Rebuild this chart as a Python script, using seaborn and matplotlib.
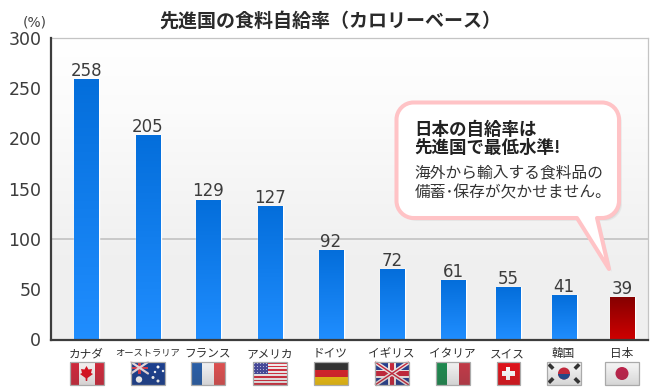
import numpy as np
import pandas as pd
import matplotlib
matplotlib.use("Agg")
import matplotlib.pyplot as plt
import seaborn as sns
from matplotlib.patches import Rectangle, Circle, PathPatch, Polygon
from matplotlib.path import Path
from matplotlib.colors import LinearSegmentedColormap

countries = ["カナダ", "オーストラリア", "フランス", "アメリカ", "ドイツ", "イギリス", "イタリア", "スイス", "韓国", "日本"]
value_labels = ["258", "205", "129", "127", "92", "72", "61", "55", "41", "39"]
drawn_heights = [259, 203, 139, 133, 89, 70, 59, 52, 44, 42]
# layout only: horizontal centres of the bars on the reference, in pixels
centres = [86.5, 148, 208, 270, 331, 392, 453, 508, 564, 622]
y_ticks = [0, 50, 100, 150, 200, 250, 300]

W, H = 650, 390
JP = ["Noto Sans CJK JP", "DejaVu Sans"]
sns.set_theme(style="white")
plt.rcParams["font.family"] = JP
DARK = "#3c3c3c"

fig = plt.figure(figsize=(W / 100, H / 100), dpi=100, facecolor="white")
L, R, T, B = 51, 648, 38, 339.5
ax = fig.add_axes([L / W, 1 - B / H, (R - L) / W, (B - T) / H])

df = pd.DataFrame({"country": countries, "pos": centres, "height": drawn_heights})
sns.barplot(data=df, x="pos", y="height", native_scale=True, width=25 / 55, color="#0F7FEA", ax=ax, zorder=3)

# plot background gradient
bg = LinearSegmentedColormap.from_list("bg", [(0, "#ffffff"), (0.25, "#fbfbfb"), (0.72, "#f0f0f0"), (1, "#efefef")])
ax.imshow(np.linspace(0, 1, 256)[:, None], extent=(L, R, 0, 300), origin="upper", aspect="auto", cmap=bg, zorder=0)

blue = LinearSegmentedColormap.from_list("blue", ["#046EDB", "#208EFF"])
red = LinearSegmentedColormap.from_list("red", ["#860000", "#CF0000"])
for i, p in enumerate(ax.patches):
    x0, w, h = p.get_x(), p.get_width(), p.get_height()
    ax.imshow(np.linspace(0, 1, 64)[:, None], extent=(x0, x0 + w, 0, h), origin="upper", aspect="auto",
              cmap=red if countries[i] == "日本" else blue, zorder=3.5)

ax.bar_label(ax.containers[0], labels=value_labels, padding=-0.5, fontsize=12, color=DARK,
             family=["DejaVu Sans"], zorder=4)

ax.set_xlim(L, R)
ax.set_ylim(0, 300)
ax.set_xlabel("")
ax.set_ylabel("")
ax.set_xticks([])
ax.set_yticks(y_ticks)
ax.tick_params(axis="y", length=0, pad=7, labelsize=12.5, labelcolor=DARK)
for t in ax.get_yticklabels():
    t.set_family(["DejaVu Sans"])
ax.axhline(100, color="#c8c8c8", lw=1.4, zorder=1)
for s in ["top", "right"]:
    ax.spines[s].set_color("#c4c4c4")
    ax.spines[s].set_linewidth(0.9)
for s in ["left", "bottom"]:
    ax.spines[s].set_color(DARK)
    ax.spines[s].set_linewidth(1.6)
    ax.spines[s].set_zorder(6)

# pixel overlay for decoration
ov = fig.add_axes([0, 0, 1, 1], facecolor="none", zorder=5)
ov.set_xlim(0, W)
ov.set_ylim(H, 0)
ov.axis("off")

ov.text(330, 21, "先進国の食料自給率（カロリーベース）", ha="center", va="center",
        fontsize=13.7, fontweight="bold", color="#2a2a2a")
ov.text(34.5, 22, "(%)", ha="center", va="center", fontsize=10, color="#444444", family=["DejaVu Sans"])

# category labels
for c, x in zip(countries, centres):
    fs = 6.7 if len(c) > 5 else 8.4
    ov.text(x - 0.5, 353.5, c, ha="center", va="center", fontsize=fs, color="#2e2e2e")


def rounded_callout(x0, y0, x1, y1, r, tail):
    k = 0.45 * r
    b0, tip, b1 = tail
    verts = [(x0 + r, y0), (x1 - r, y0), (x1 - k, y0), (x1, y0 + k), (x1, y0 + r),
             (x1, y1 - r), (x1, y1 - k), (x1 - k, y1), (x1 - r, y1),
             b1, tip, b0,
             (x0 + r, y1), (x0 + k, y1), (x0, y1 - k), (x0, y1 - r),
             (x0, y0 + r), (x0, y0 + k), (x0 + k, y0), (x0 + r, y0), (x0 + r, y0)]
    codes = [Path.MOVETO, Path.LINETO, Path.CURVE4, Path.CURVE4, Path.CURVE4,
             Path.LINETO, Path.CURVE4, Path.CURVE4, Path.CURVE4,
             Path.LINETO, Path.LINETO, Path.LINETO,
             Path.LINETO, Path.CURVE4, Path.CURVE4, Path.CURVE4,
             Path.LINETO, Path.CURVE4, Path.CURVE4, Path.CURVE4, Path.CLOSEPOLY]
    return Path(verts, codes)


tail = [(577, 218), (609, 269), (597, 218)]
for off, a in [(3, 0.07), (2, 0.09), (1, 0.1)]:
    shifted = [(x + off, y + off) for x, y in tail]
    ov.add_patch(PathPatch(rounded_callout(396.5 + off, 102.5 + off, 619 + off, 218 + off, 17, shifted),
                           fc="#555555", ec="none", alpha=a))
ov.add_patch(PathPatch(rounded_callout(396.5, 102.5, 619, 218, 17, tail), fc="white", ec="#FFC3C6", lw=2.9, joinstyle="round"))

ov.text(414, 129.5, "日本の自給率は", ha="left", va="center", fontsize=12.6, fontweight="bold", color="#222222")
ov.text(414, 148, "先進国で最低水準!", ha="left", va="center", fontsize=12.6, fontweight="bold", color="#222222")
ov.text(414.5, 173, "海外から輸入する食料品の", ha="left", va="center", fontsize=11.3, color="#333333")
ov.text(414.5, 193, "備蓄･保存が欠かせません。", ha="left", va="center", fontsize=11.3, color="#333333")


# small flag pictures
FW, FH, FY = 34, 23, 362


def box(x, y, w, h, color, **kw):
    ov.add_patch(Rectangle((x, y), w, h, fc=color, ec="none", **kw))


def flag(name, cx):
    w = 23 if name == "スイス" else FW
    x, y = cx - w / 2, FY
    clip = Rectangle((x, y), w, FH, transform=ov.transData)
    before = len(ov.patches)
    if name == "カナダ":
        box(x, y, w, FH, "#f4f0f0")
        box(x, y, 9, FH, "#cf2a3c")
        box(x + w - 9, y, 9, FH, "#cf2a3c")
        ov.add_patch(Polygon([(cx, y + 4), (cx + 2, y + 7.5), (cx + 5.5, y + 7), (cx + 4.5, y + 11), (cx + 6.5, y + 12),
                              (cx + 1, y + 16), (cx + 0.7, y + 19), (cx - 0.7, y + 19), (cx - 1, y + 16),
                              (cx - 6.5, y + 12), (cx - 4.5, y + 11), (cx - 5.5, y + 7), (cx - 2, y + 7.5)],
                             fc="#dd1020", ec="none"))
    elif name == "オーストラリア":
        box(x, y, w, FH, "#1c3f8f")
        ov.plot([x, x + 17], [y, y + 11.5], color="#e8d8dc", lw=1.6)
        ov.plot([x, x + 17], [y + 11.5, y], color="#e8d8dc", lw=1.6)
        box(x + 7, y, 3, 11.5, "#d33a4c")
        box(x, y + 4.5, 17, 2.6, "#d33a4c")
        for dx, dy, s in [(8, 17.5, 3.2), (22, 15.5, 1.5), (27, 5, 1.5), (32, 9, 1.2), (27, 19, 1.5), (24, 10, 1.2)]:
            ov.add_patch(Circle((x + dx, y + dy), s, fc="white", ec="none"))
    elif name == "フランス":
        box(x, y, w / 3, FH, "#2a5fa8")
        box(x + w / 3, y, w / 3, FH, "#f1f1f3")
        box(x + 2 * w / 3, y, w / 3, FH, "#dd5050")
    elif name == "アメリカ":
        for k in range(7):
            box(x, y + k * FH / 6.5, w, FH / 13, "#d6303f")
            box(x, y + (k + 0.5) * FH / 6.5, w, FH / 13, "#f3eeee")
        box(x, y, 15, 12, "#474a9a")
        for i in range(5):
            for j in range(4):
                ov.add_patch(Circle((x + 1.5 + i * 3, y + 1.5 + j * 3), 0.55, fc="#c8c8e8", ec="none"))
    elif name == "ドイツ":
        box(x, y, w, FH / 3, "#333333")
        box(x, y + FH / 3, w, FH / 3, "#d8222a")
        box(x, y + 2 * FH / 3, w, FH / 3, "#f0c010")
    elif name == "イギリス":
        box(x, y, w, FH, "#28408f")
        ov.plot([x, x + w], [y, y + FH], color="#f0e8e8", lw=3, solid_capstyle="butt")
        ov.plot([x, x + w], [y + FH, y], color="#f0e8e8", lw=3, solid_capstyle="butt")
        ov.plot([x, x + w], [y, y + FH], color="#c8283c", lw=1, solid_capstyle="butt")
        ov.plot([x, x + w], [y + FH, y], color="#c8283c", lw=1, solid_capstyle="butt")
        box(cx - 4, y, 8, FH, "#f0e8e8")
        box(x, y + FH / 2 - 4, w, 8, "#f0e8e8")
        box(cx - 2.2, y, 4.4, FH, "#c8283c")
        box(x, y + FH / 2 - 2.2, w, 4.4, "#c8283c")
    elif name == "イタリア":
        box(x, y, w / 3, FH, "#1f8a50")
        box(x + w / 3, y, w / 3, FH, "#f1f1f1")
        box(x + 2 * w / 3, y, w / 3, FH, "#c23a48")
    elif name == "スイス":
        box(x, y, w, FH, "#e0141c")
        box(cx - 6.5, y + FH / 2 - 2.3, 13, 4.6, "white")
        box(cx - 2.3, y + FH / 2 - 6.5, 4.6, 13, "white")
    elif name == "韓国":
        box(x, y, w, FH, "#f5f5f5")
        cy = y + FH / 2
        ov.add_patch(Circle((cx, cy), 6, fc="#c8283c", ec="none"))
        ov.add_patch(Rectangle((cx - 6, cy), 12, 6, fc="#1f4a90", ec="none",
                               clip_path=Circle((cx, cy), 6, transform=ov.transData)))
        for sx, sy in [(-1, -1), (1, -1), (-1, 1), (1, 1)]:
            ov.plot([cx + sx * 13 - 2.2, cx + sx * 13 + 2.2], [cy + sy * 7 - sx * sy * 2.2, cy + sy * 7 + sx * sy * 2.2],
                    color="#333333", lw=2.6, solid_capstyle="butt")
    elif name == "日本":
        box(x, y, w, FH, "#f5f5f5")
        ov.add_patch(Circle((cx, y + FH / 2), 6.5, fc="#c0244c", ec="none"))
    for art in list(ov.patches)[before:]:
        if art.get_clip_path() is None:
            art.set_clip_path(clip)
    # soft shading and frame
    shade = np.zeros((32, 1, 4))
    shade[..., :3] = 0.25
    shade[:, 0, 3] = np.linspace(0.0, 0.2, 32) ** 1.1
    ov.imshow(shade, extent=(x, x + w, y + FH, y), aspect="auto", zorder=3)
    ov.add_patch(Rectangle((x, y), w, FH, fc="none", ec="#aaaaaa", lw=0.9, zorder=4))


for c, x in zip(countries, centres):
    flag(c, x)
ov.set_xlim(0, W)
ov.set_ylim(H, 0)

fig.savefig("out.png", dpi=100, facecolor="white")
